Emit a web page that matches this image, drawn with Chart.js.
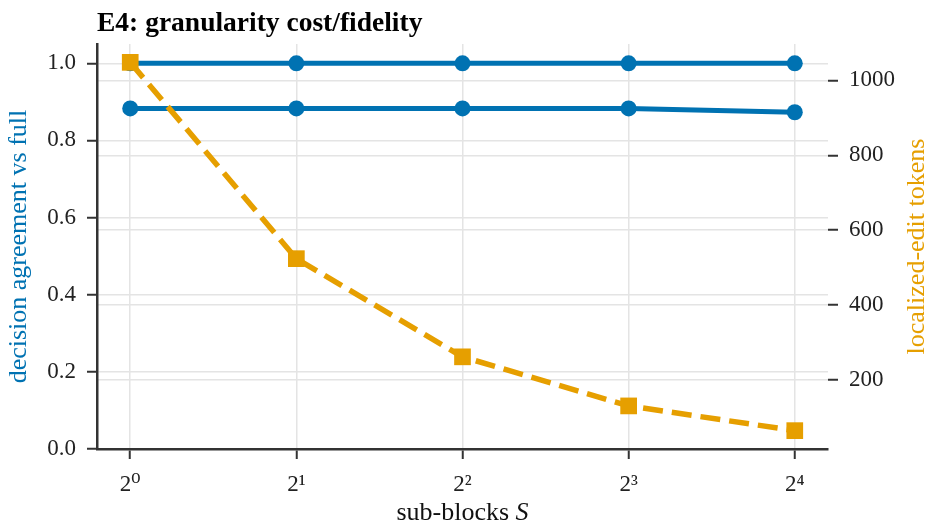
<!DOCTYPE html>
<html>
<head>
<meta charset="utf-8">
<script src="https://cdn.jsdelivr.net/npm/chart.js@4/dist/chart.umd.min.js"></script>
<style>
  html, body { margin: 0; padding: 0; background: #ffffff; }
  #wrap { width: 928px; height: 523px; position: relative; }
</style>
</head>
<body>
<div id="wrap"><canvas id="c"></canvas></div>
<script>
// ---- data ----
const subBlocks = [1, 2, 4, 8, 16];
const agreementFull = [1.0, 1.0, 1.0, 1.0, 1.0];
const agreementPartial = [0.883, 0.883, 0.883, 0.883, 0.873];
const editTokens = [1048, 524, 262, 131, 65];
const leftTicks = [0, 0.2, 0.4, 0.6, 0.8, 1.0];
const rightTicks = [200, 400, 600, 800, 1000];

const BLUE = '#0072B2';
const ORANGE = '#E69F00';
const INK = '#333333';
const GRID = '#e4e4e4';
const SERIF = '"Liberation Serif", "DejaVu Serif", serif';
const SUP = ['\u2070', '\u00B9', '\u00B2', '\u00B3', '\u2074', '\u2075'];

const titlesPlugin = {
  id: 'extraTitles',
  afterDraw(chart) {
    const ctx = chart.ctx;
    const ca = chart.chartArea;
    ctx.save();
    // x axis title: "sub-blocks S" with italic S
    ctx.fillStyle = '#111111';
    ctx.textBaseline = 'alphabetic';
    const fN = '26px ' + SERIF;
    const fI = 'italic 26px ' + SERIF;
    ctx.font = fN;
    const w1 = ctx.measureText('sub-blocks ').width;
    ctx.font = fI;
    const w2 = ctx.measureText('S').width;
    const cx = (ca.left + ca.right) / 2;
    const x0 = cx - (w1 + w2) / 2;
    ctx.font = fN;
    ctx.textAlign = 'left';
    ctx.fillText('sub-blocks ', x0, 520);
    ctx.font = fI;
    ctx.fillText('S', x0 + w1, 520);
    // right axis title, reading bottom to top
    ctx.translate(917, (ca.top + ca.bottom) / 2);
    ctx.rotate(-Math.PI / 2);
    ctx.font = '26px ' + SERIF;
    ctx.fillStyle = ORANGE;
    ctx.textAlign = 'center';
    ctx.textBaseline = 'middle';
    ctx.fillText('localized-edit tokens', 0, 0);
    ctx.restore();
  }
};

new Chart(document.getElementById('c'), {
  type: 'line',
  data: {
    datasets: [
      {
        label: 'localized-edit tokens',
        data: subBlocks.map((s, i) => ({ x: s, y: editTokens[i] })),
        yAxisID: 'y1',
        borderColor: ORANGE,
        backgroundColor: ORANGE,
        borderWidth: 5.5,
        borderDash: [20, 9],
        pointStyle: 'rect',
        pointRadius: 11.8,
        pointBorderWidth: 0,
        pointBackgroundColor: ORANGE,
        tension: 0
      },
      {
        label: 'agreement (full)',
        data: subBlocks.map((s, i) => ({ x: s, y: agreementFull[i] })),
        yAxisID: 'y',
        borderColor: BLUE,
        backgroundColor: BLUE,
        borderWidth: 5,
        pointStyle: 'circle',
        pointRadius: 8,
        pointBorderWidth: 0,
        pointBackgroundColor: BLUE,
        tension: 0
      },
      {
        label: 'agreement (partial)',
        data: subBlocks.map((s, i) => ({ x: s, y: agreementPartial[i] })),
        yAxisID: 'y',
        borderColor: BLUE,
        backgroundColor: BLUE,
        borderWidth: 5,
        pointStyle: 'circle',
        pointRadius: 8,
        pointBorderWidth: 0,
        pointBackgroundColor: BLUE,
        tension: 0
      }
    ]
  },
  options: {
    responsive: true,
    maintainAspectRatio: false,
    devicePixelRatio: 1,
    animation: false,
    layout: { padding: 0 },
    plugins: {
      legend: { display: false },
      tooltip: { enabled: false },
      title: {
        display: true,
        text: 'E4: granularity cost/fidelity',
        align: 'start',
        fullSize: false,
        color: '#000000',
        font: { family: SERIF, size: 27.5, weight: 'bold', lineHeight: 1.2 },
        padding: { top: 7, bottom: 4 }
      }
    },
    scales: {
      x: {
        type: 'logarithmic',
        min: Math.pow(2, -0.2),
        max: Math.pow(2, 4.2),
        afterBuildTicks: (s) => { s.ticks = subBlocks.map(v => ({ value: v })); },
        afterFit: (s) => { s.height = 74; },
        ticks: {
          autoSkip: false,
          maxRotation: 0,
          color: '#222222',
          padding: 12,
          font: { family: SERIF, size: 23 },
          callback: (v) => '2' + SUP[Math.round(Math.log2(v))]
        },
        grid: { color: GRID, lineWidth: 1.5, tickColor: INK, tickLength: 10, tickWidth: 2 },
        border: { display: true, color: INK, width: 2.5 }
      },
      y: {
        position: 'left',
        min: 0,
        max: 1.05,
        afterBuildTicks: (s) => { s.ticks = leftTicks.map(v => ({ value: v })); },
        afterFit: (s) => { s.width = 97; },
        ticks: {
          color: '#222222',
          padding: 11,
          font: { family: SERIF, size: 23 },
          callback: (v) => Number(v).toFixed(1)
        },
        title: {
          display: true,
          text: 'decision agreement vs full',
          color: BLUE,
          font: { family: SERIF, size: 26, lineHeight: 1.2 },
          padding: { top: 4, bottom: 0 }
        },
        grid: { color: GRID, lineWidth: 1.5, tickColor: INK, tickLength: 10, tickWidth: 2 },
        border: { display: true, color: INK, width: 2.5 }
      },
      y1: {
        position: 'right',
        min: 16,
        max: 1097,
        afterBuildTicks: (s) => { s.ticks = rightTicks.map(v => ({ value: v })); },
        afterFit: (s) => { s.width = 100; },
        ticks: {
          color: '#222222',
          padding: 11,
          font: { family: SERIF, size: 23 },
          callback: (v) => String(v)
        },
        grid: { color: GRID, lineWidth: 1.5, tickColor: INK, tickLength: 10, tickWidth: 2 },
        border: { display: false }
      }
    }
  },
  plugins: [titlesPlugin]
});
</script>
</body>
</html>
